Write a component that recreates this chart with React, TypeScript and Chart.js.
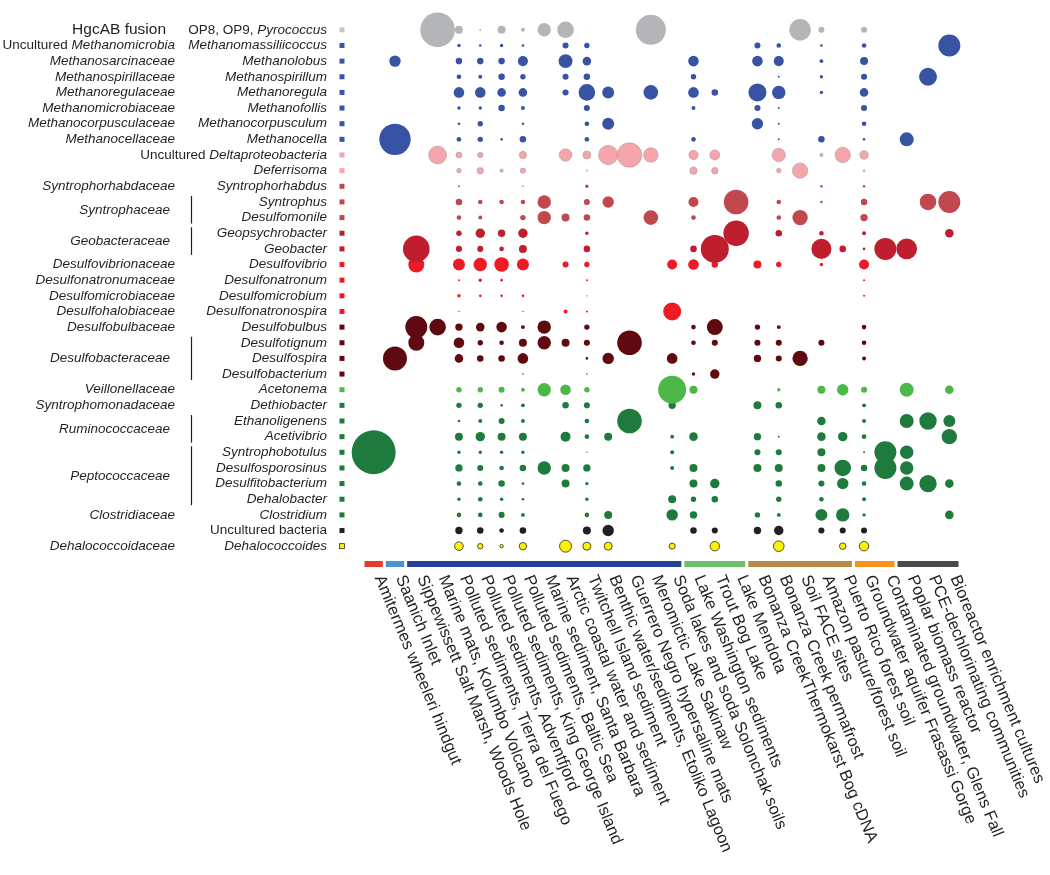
import React, { useEffect, useRef } from 'react';
import { Chart, registerables } from 'chart.js';

Chart.register(...registerables);

// ---------- categories ----------
const environments = [
  'Amitermes wheeleri hindgut',
  'Saanich Inlet',
  'Sippewissett Salt Marsh, Woods Hole',
  'Marine mats, Kolumbo Volcano',
  'Polluted sediments, Tierra del Fuego',
  'Polluted sediments, Adventfjord',
  'Polluted sediments, King George Island',
  'Polluted sediments, Baltic Sea',
  'Marine sediment, Santa Barbara',
  'Arctic coastal water and sediment',
  'Twitchell Island sediment',
  'Benthic water/sediments, Etoliko Lagoon',
  'Guerrero Negro hypersaline mats',
  'Meromictic Lake Sakinaw',
  'Soda lakes and soda Solonchak soils',
  'Lake Washington sediments',
  'Trout Bog Lake',
  'Lake Mendota',
  'Bonanza CreekThermokarst Bog cDNA',
  'Bonanza Creek permafrost',
  'Soil FACE sites',
  'Amazon pasture/forest soil',
  'Puerto Rico forest soil',
  'Groundwater aquifer Frasassi Gorge',
  'Contaminated groundwater, Glens Fall',
  'Poplar biomass reactor',
  'PCE-dechlorinating communities',
  'Bioreactor enrichment cultures',
];

const envGroupFirst = [0, 1, 2, 15, 18, 23, 25];
const envGroupLast = [0, 1, 14, 17, 22, 24, 27];
const envGroupColors = ['#e8392d', '#4b93d1', '#253f94', '#6cc06a', '#b68a47', '#f7931e', '#4a4a4a'];

// '*' marks italic segments
const genusLabels = [
  'OP8, OP9, *Pyrococcus*',
  '*Methanomassiliicoccus*',
  '*Methanolobus*',
  '*Methanospirillum*',
  '*Methanoregula*',
  '*Methanofollis*',
  '*Methanocorpusculum*',
  '*Methanocella*',
  'Uncultured *Deltaproteobacteria*',
  '*Deferrisoma*',
  '*Syntrophorhabdus*',
  '*Syntrophus*',
  '*Desulfomonile*',
  '*Geopsychrobacter*',
  '*Geobacter*',
  '*Desulfovibrio*',
  '*Desulfonatronum*',
  '*Desulfomicrobium*',
  '*Desulfonatronospira*',
  '*Desulfobulbus*',
  '*Desulfotignum*',
  '*Desulfospira*',
  '*Desulfobacterium*',
  '*Acetonema*',
  '*Dethiobacter*',
  '*Ethanoligenens*',
  '*Acetivibrio*',
  '*Syntrophobotulus*',
  '*Desulfosporosinus*',
  '*Desulfitobacterium*',
  '*Dehalobacter*',
  '*Clostridium*',
  'Uncultured bacteria',
  '*Dehalococcoides*',
];

const familyLabels = [
  'HgcAB fusion',
  'Uncultured *Methanomicrobia*',
  '*Methanosarcinaceae*',
  '*Methanospirillaceae*',
  '*Methanoregulaceae*',
  '*Methanomicrobiaceae*',
  '*Methanocorpusculaceae*',
  '*Methanocellaceae*',
  '*Syntrophorhabdaceae*',
  '*Syntrophaceae*',
  '*Geobacteraceae*',
  '*Desulfovibrionaceae*',
  '*Desulfonatronumaceae*',
  '*Desulfomicrobiaceae*',
  '*Desulfohalobiaceae*',
  '*Desulfobulbaceae*',
  '*Desulfobacteraceae*',
  '*Veillonellaceae*',
  '*Syntrophomonadaceae*',
  '*Ruminococcaceae*',
  '*Peptococcaceae*',
  '*Clostridiaceae*',
  '*Dehalococcoidaceae*',
];
const familyFirstRow = [0, 1, 2, 3, 4, 5, 6, 7, 10, 11, 13, 15, 16, 17, 18, 19, 20, 23, 24, 25, 27, 31, 33];
const familyLastRow = [0, 1, 2, 3, 4, 5, 6, 7, 10, 12, 14, 15, 16, 17, 18, 19, 22, 23, 24, 26, 30, 31, 33];

// ---------- series values (% of hgcA sequences per environment) ----------
const hgcabFusion = [0, 0, 0, 62, 3.3, 0.2, 3.3, 0.8, 9.3, 14.2, 0.05, 0, 0, 46.5, 0, 0, 0, 0, 0, 0, 23.7, 1.9, 0, 1.9, 0, 0, 0, 0];
const methanomassiliicoccus = [0, 0, 0, 0, 0.6, 0.35, 0.6, 0.35, 0, 1.9, 1.5, 0, 0, 0, 0, 0, 0, 0, 1.9, 1.1, 0, 0.35, 0, 1.1, 0, 0, 0, 25];
const methanolobus = [0, 6.7, 0, 0, 2.2, 2.2, 2.2, 5.2, 0, 10.1, 3.8, 0, 0, 0, 0, 5.8, 0, 0, 5.8, 5.2, 0, 0.8, 0, 3.3, 0, 0, 0, 0];
const methanospirillum = [0, 0, 0, 0, 1.1, 0.8, 2.2, 1.5, 0, 1.9, 2.2, 0, 0, 0, 0, 1.5, 0, 0, 0, 0.2, 0, 0.6, 0, 1.9, 0, 0, 16.7, 0];
const methanoregula = [0, 0, 0, 0, 5.8, 5.8, 3.8, 3.8, 0, 1.9, 14.2, 7.4, 0, 11, 0, 5.8, 2.2, 0, 16.7, 9.3, 0, 0.6, 0, 3.8, 0, 0, 0, 0];
const methanofollis = [0, 0, 0, 0, 0.6, 0.6, 2.2, 0.8, 0, 0, 1.9, 0, 0, 0, 0, 0.8, 0, 0, 1.9, 0.2, 0, 0, 0, 1.9, 0, 0, 0, 0];
const methanocorpusculum = [0, 0, 0, 0, 0.35, 1.5, 0, 0.35, 0, 0, 1.1, 7.4, 0, 0, 0, 0, 0, 0, 6.7, 0.2, 0, 0, 0, 1.1, 0, 0, 0, 0];
const methanocella = [0, 51, 0, 0, 1.1, 1.5, 0.35, 2.2, 0, 0, 1.1, 0, 0, 0, 0, 1.1, 0, 0, 0, 0.2, 0, 2.2, 0, 0.35, 0, 10.1, 0, 0];
const unculturedDelta = [0, 0, 0, 16.7, 1.9, 1.5, 0, 2.8, 0, 8.2, 3.3, 19.4, 31.3, 11, 0, 4.6, 5.2, 0, 0, 9.3, 0, 0.6, 12.2, 3.8, 0, 0, 0, 0];
const deferrisoma = [0, 0, 0, 0, 1.1, 2.2, 0.6, 1.5, 0, 0, 0.1, 0, 0, 0, 0, 2.8, 2.2, 0, 0, 1.1, 12.2, 0, 0, 0.2, 0, 0, 0, 0];
const syntrophorhabdus = [0, 0, 0, 0, 0.2, 0, 0, 0.1, 0, 0, 0.6, 0, 0, 0, 0, 0, 0, 0, 0, 0, 0, 0.35, 0, 0.35, 0, 0, 0, 0];
const syntrophus = [0, 0, 0, 0, 2.2, 1.1, 1.1, 1.1, 9.3, 0, 1.9, 6.7, 0, 0, 0, 5.2, 0, 31.3, 0, 1.1, 0, 0.35, 0, 2.2, 0, 0, 14.2, 25];
const desulfomonile = [0, 0, 0, 0, 1.1, 0.8, 0, 1.5, 9.3, 3.3, 2.2, 0, 0, 11, 0, 1.1, 0, 0, 0, 1.1, 12.2, 0, 0, 2.8, 0, 0, 0, 0];
const geopsychrobacter = [0, 0, 0, 0, 1.5, 4.6, 2.8, 4.6, 0, 0, 0.6, 0, 0, 0, 0, 0, 0, 33.3, 0, 2.2, 0, 1.1, 0, 0.8, 0, 0, 0, 3.8];
const geobacter = [0, 0, 36.5, 0, 1.9, 1.9, 1.1, 3.3, 0, 0, 2.2, 0, 0, 0, 0, 2.2, 40.5, 0, 0, 0, 0, 20.7, 2.2, 0.35, 25, 21.9, 0, 0];
const desulfovibrio = [0, 0, 13.2, 0, 7.4, 9.3, 11, 7.4, 0, 1.9, 1.5, 0, 0, 0, 5.2, 5.8, 2.2, 0, 3.3, 1.5, 0, 0.6, 0, 5.2, 0, 0, 0, 0];
const desulfonatronum = [0, 0, 0, 0, 0.2, 0.6, 0.35, 0, 0, 0, 0.2, 0, 0, 0, 0, 0, 0, 0, 0, 0, 0, 0, 0, 0.2, 0, 0, 0, 0];
const desulfomicrobium = [0, 0, 0, 0, 0.6, 0.35, 0.35, 0.35, 0, 0, 0.1, 0, 0, 0, 0, 0, 0, 0, 0, 0, 0, 0, 0, 0.2, 0, 0, 0, 0];
const desulfonatronospira = [0, 0, 0, 0, 0.1, 0, 0, 0.1, 0, 0.8, 0.2, 0, 0, 0, 16.7, 0, 0, 0, 0, 0, 0, 0, 0, 0, 0, 0, 0, 0];
const desulfobulbus = [0, 0, 25, 14.2, 2.8, 3.8, 5.8, 0.8, 9.3, 0, 1.5, 0, 0, 0, 0, 1.1, 13.2, 0, 1.5, 0.8, 0, 0, 0, 1.1, 0, 0, 0, 0];
const desulfotignum = [0, 0, 13.2, 0, 5.8, 1.5, 1.1, 3.3, 9.3, 3.3, 1.9, 0, 31.3, 0, 0, 1.1, 1.9, 0, 1.9, 1.9, 0, 1.9, 0, 1.1, 0, 0, 0, 0];
const desulfospira = [0, 29.8, 0, 0, 3.8, 2.2, 2.2, 5.8, 0, 0, 0.35, 6.7, 0, 0, 5.8, 0, 0, 0, 2.8, 1.9, 12.2, 0, 0, 0.8, 0, 0, 0, 0];
const desulfobacterium = [0, 0, 0, 0, 0, 0, 0, 0.1, 0, 0, 0.1, 0, 0, 0, 0, 0.6, 4.6, 0, 0, 0, 0, 0, 0, 0, 0, 0, 0, 0];
const acetonema = [0, 0, 0, 0, 1.5, 1.5, 1.9, 0.8, 9.3, 5.8, 1.5, 0, 0, 0, 40.5, 3.3, 0, 0, 0, 0.6, 0, 3.3, 6.7, 1.9, 0, 10.1, 0, 3.8];
const dethiobacter = [0, 0, 0, 0, 1.5, 1.5, 0.35, 0.8, 0, 2.2, 1.9, 0, 0, 0, 2.8, 0, 0, 0, 3.3, 2.2, 0, 0, 0, 0.8, 0, 0, 0, 0];
const ethanoligenens = [0, 0, 0, 0, 0.35, 0.8, 1.9, 0.8, 0, 0, 1.1, 0, 31.3, 0, 0, 0, 0, 0, 0, 0, 0, 3.8, 0, 0.8, 0, 10.1, 15.6, 7.4];
const acetivibrio = [0, 0, 0, 0, 3.3, 4.6, 3.3, 3.3, 0, 5.2, 1.1, 3.3, 0, 0, 0.8, 3.8, 0, 0, 2.8, 0.2, 0, 3.8, 4.6, 1.1, 0, 0, 0, 12.2];
const syntrophobotulus = [100, 0, 0, 0, 0.6, 0.6, 0.6, 0.6, 0, 0, 0.1, 0, 0, 0, 0.8, 0, 0, 0, 1.9, 1.9, 0, 3.3, 0, 0.2, 25, 9.3, 0, 0];
const desulfosporosinus = [0, 0, 0, 0, 2.8, 1.9, 1.1, 2.2, 9.3, 3.3, 2.8, 0, 0, 0, 0.8, 3.3, 0, 0, 3.3, 3.3, 0, 3.3, 14.2, 2.2, 25, 9.3, 0, 0];
const desulfitobacterium = [0, 0, 0, 0, 1.1, 1.1, 2.2, 0.35, 0, 3.3, 0.6, 0, 0, 0, 0, 3.3, 4.6, 0, 0, 2.2, 0, 1.9, 6.7, 1.1, 0, 10.1, 15.6, 3.8];
const dehalobacter = [0, 0, 0, 0, 0.6, 1.1, 0.6, 0.35, 0, 0, 0.6, 0, 0, 0, 3.3, 1.5, 2.2, 0, 0, 1.5, 0, 1.1, 0, 0.8, 0, 0, 0, 0];
const clostridium = [0, 0, 0, 0, 1.1, 1.1, 1.9, 0.8, 0, 0, 1.1, 3.3, 0, 0, 6.7, 2.8, 0, 0, 1.5, 0.8, 0, 7.4, 9.3, 0.6, 0, 0, 0, 3.8];
const unculturedBacteria = [0, 0, 0, 0, 2.8, 2.2, 1.1, 2.2, 0, 0, 3.3, 6.7, 0, 0, 0, 2.2, 1.9, 0, 2.8, 4.6, 0, 1.9, 1.9, 1.9, 0, 0, 0, 0];
const dehalococcoides = [0, 0, 0, 0, 3.8, 1.5, 0.6, 2.8, 0, 7.4, 3.3, 3.3, 0, 0, 1.9, 0, 4.6, 0, 0, 5.8, 0, 0, 2.2, 4.6, 0, 0, 0, 0];

const rowValues = [
  hgcabFusion, methanomassiliicoccus, methanolobus, methanospirillum, methanoregula,
  methanofollis, methanocorpusculum, methanocella, unculturedDelta, deferrisoma,
  syntrophorhabdus, syntrophus, desulfomonile, geopsychrobacter, geobacter,
  desulfovibrio, desulfonatronum, desulfomicrobium, desulfonatronospira, desulfobulbus,
  desulfotignum, desulfospira, desulfobacterium, acetonema, dethiobacter,
  ethanoligenens, acetivibrio, syntrophobotulus, desulfosporosinus, desulfitobacterium,
  dehalobacter, clostridium, unculturedBacteria, dehalococcoides,
];

// ---------- styles ----------
const GRAY = '#b4b5b8';
const BLUE = '#3853a4';
const PINK = '#f4a6ac';
const SRED = '#c1484e';
const GRED = '#be1e2d';
const BRED = '#ed1c24';
const MAROON = '#5e0a10';
const LGREEN = '#4db848';
const GREEN = '#1f7b3d';
const BLACK = '#231f20';
const YELLOW = '#fff200';

const rowColors = [
  GRAY, BLUE, BLUE, BLUE, BLUE, BLUE, BLUE, BLUE, PINK, PINK,
  SRED, SRED, SRED, GRED, GRED, BRED, BRED, BRED, BRED, MAROON,
  MAROON, MAROON, MAROON, LGREEN, GREEN, GREEN, GREEN, GREEN, GREEN, GREEN,
  GREEN, GREEN, BLACK, YELLOW,
];

const FONT_FAMILY = '"Liberation Sans", Arial, Helvetica, sans-serif';
const TEXT_COLOR = '#231f20';
const LEFT_SIZE = 13.5;

function radiusFor(v: number) {
  return 2.2 * Math.sqrt(v);
}

function drawRich(ctx: CanvasRenderingContext2D, text: string, xRight: number, y: number, size: number) {
  const parts = text.split('*');
  const fonts = parts.map((_, i) => `${i % 2 === 1 ? 'italic ' : ''}${size}px ${FONT_FAMILY}`);
  const widths = parts.map((p, i) => {
    ctx.font = fonts[i];
    return ctx.measureText(p).width;
  });
  const total = widths.reduce((a, b) => a + b, 0);
  let x = xRight - total;
  parts.forEach((p, i) => {
    ctx.font = fonts[i];
    ctx.fillText(p, x, y);
    x += widths[i];
  });
}

const labelsPlugin = {
  id: 'figureLabels',
  afterDraw(chart: any) {
    const ctx: CanvasRenderingContext2D = chart.ctx;
    const xs = chart.scales.x;
    const ys = chart.scales.y;
    const colW = xs.getPixelForValue(1) - xs.getPixelForValue(0);
    ctx.save();
    ctx.fillStyle = TEXT_COLOR;
    ctx.textBaseline = 'middle';
    ctx.textAlign = 'left';

    // genus labels + colour keys
    genusLabels.forEach((g, r) => {
      const y = ys.getPixelForValue(r);
      ctx.fillStyle = TEXT_COLOR;
      drawRich(ctx, g, 327, y, LEFT_SIZE);
      ctx.fillStyle = r === 0 ? '#c4c5c7' : rowColors[r];
      ctx.fillRect(339.5, y - 2.5, 5, 5);
      if (rowColors[r] === YELLOW) {
        ctx.strokeStyle = '#333';
        ctx.lineWidth = 0.8;
        ctx.strokeRect(339.5, y - 2.5, 5, 5);
      }
    });

    // family labels + brackets
    ctx.fillStyle = TEXT_COLOR;
    familyLabels.forEach((f, i) => {
      const y0 = ys.getPixelForValue(familyFirstRow[i]);
      const y1 = ys.getPixelForValue(familyLastRow[i]);
      const multi = familyLastRow[i] > familyFirstRow[i];
      const yc = (y0 + y1) / 2;
      if (i === 0) {
        drawRich(ctx, f, 166, yc, 15.5);
      } else {
        drawRich(ctx, f, multi ? 170 : 175, yc, LEFT_SIZE);
      }
      if (multi) {
        ctx.strokeStyle = TEXT_COLOR;
        ctx.lineWidth = 1.2;
        ctx.beginPath();
        ctx.moveTo(191.5, y0 - 6);
        ctx.lineTo(191.5, y1 + 6);
        ctx.stroke();
      }
    });

    // environment group bars
    envGroupFirst.forEach((first, g) => {
      const last = envGroupLast[g];
      const x0 = xs.getPixelForValue(first) - colW / 2 + 1.5;
      const x1 = xs.getPixelForValue(last) + colW / 2 - 1.5;
      ctx.fillStyle = envGroupColors[g];
      ctx.fillRect(x0, 561, x1 - x0, 6);
    });

    // rotated environment labels
    ctx.fillStyle = TEXT_COLOR;
    ctx.font = `16.5px ${FONT_FAMILY}`;
    ctx.textBaseline = 'middle';
    ctx.textAlign = 'left';
    environments.forEach((e, i) => {
      const x = xs.getPixelForValue(i) + 5;
      ctx.save();
      ctx.translate(x, 576);
      ctx.rotate((67.5 * Math.PI) / 180);
      ctx.fillText(e, 0, 0);
      ctx.restore();
    });
    ctx.restore();
  },
};

export default function App() {
  const canvasRef = useRef<HTMLCanvasElement | null>(null);

  useEffect(() => {
    const canvas = canvasRef.current;
    if (!canvas) return;
    const datasets = rowValues.map((vals, r) => {
      const color = rowColors[r];
      const outlined = color === YELLOW || color === PINK;
      return {
        label: genusLabels[r].replace(/\*/g, ''),
        data: vals
          .map((v, c) => (v > 0 ? { x: c, y: r, r: radiusFor(v) } : null))
          .filter((p) => p !== null) as { x: number; y: number; r: number }[],
        backgroundColor: color,
        borderColor: color === YELLOW ? '#3a3a3a' : 'rgba(140,140,140,0.7)',
        borderWidth: outlined ? (color === YELLOW ? 0.9 : 0.6) : 0,
        hoverRadius: 0,
        clip: false as any,
      };
    });

    const chart = new Chart(canvas, {
      type: 'bubble',
      data: { datasets },
      options: {
        responsive: false,
        animation: false,
        events: [],
        layout: { padding: { left: 363, right: 90, top: 10, bottom: 321 } },
        scales: {
          x: { type: 'linear', min: -0.5, max: 27.5, display: false },
          y: { type: 'linear', min: -0.5, max: 33.5, reverse: true, display: false },
        },
        plugins: {
          legend: { display: false },
          tooltip: { enabled: false },
        },
      },
      plugins: [labelsPlugin],
    });
    return () => chart.destroy();
  }, []);

  return (
    <div style={{ position: 'absolute', left: 0, top: 0, width: 1050, height: 875, background: '#fff' }}>
      <canvas ref={canvasRef} width={1050} height={875} style={{ display: 'block' }} />
    </div>
  );
}
